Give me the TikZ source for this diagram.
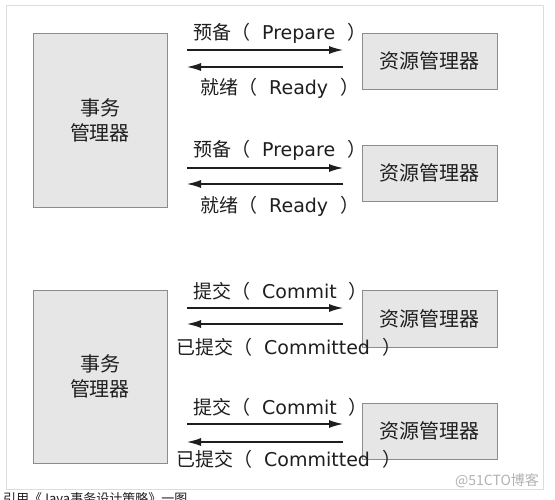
\documentclass[tikz,border=0pt]{standalone}
\usepackage{fontspec}
\setmainfont{DejaVu Sans}
\newfontfamily\cjk{Noto Sans CJK SC}
\usetikzlibrary{arrows.meta}
\definecolor{boxfill}{HTML}{E6E6E6}
\definecolor{boxline}{HTML}{8C8C8C}
\definecolor{frameline}{HTML}{DCDCDC}
\definecolor{ink}{HTML}{1E1E1E}
\newcommand{\zh}[1]{{\cjk #1}}
\newcommand{\gp}{\hspace{12pt}}
\begin{document}
\begin{tikzpicture}[x=1pt,y=-1pt,
  box/.style={draw=boxline, fill=boxfill, line width=0.8pt, inner sep=0pt, outer sep=0pt, text=ink,
    font=\cjk\fontsize{20}{25}\selectfont, align=center},
  tmbox/.style={box, minimum width=134pt, minimum height=174pt},
  rmbox/.style={box, minimum width=135pt, minimum height=56pt},
  lab/.style={anchor=west, inner sep=0pt, text=ink, font=\fontsize{19}{19}\selectfont},
  arr/.style={-{Latex[length=14pt,width=8pt]}, line width=1.2pt, draw=ink}]
\useasboundingbox (0,0) rectangle (555,500);
\fill[white] (0,0) rectangle (555,500);
\draw[frameline, line width=0.8pt] (6,5) rectangle (543,489);

% top group
\node[tmbox] (tm1) at (100,120) {事务\\管理器};
\node[rmbox] (rm1) at (429.5,61) {资源管理器};
\node[rmbox] (rm2) at (429.5,173) {资源管理器};
\coordinate (p1s) at (187,50);  \coordinate (p1e) at (343,50);
\coordinate (r1s) at (343,67);  \coordinate (r1e) at (187,67);
\coordinate (p2s) at (187,168); \coordinate (p2e) at (343,168);
\coordinate (r2s) at (343,184); \coordinate (r2e) at (187,184);
\draw[arr] (p1s) -- (p1e);
\draw[arr] (r1s) -- (r1e);
\draw[arr] (p2s) -- (p2e);
\draw[arr] (r2s) -- (r2e);
\node[lab] (lp1) at (193,33) {\zh{预备（}\gp Prepare\gp\zh{）}};
\node[lab] (lr1) at (200,88) {\zh{就绪（}\gp Ready\gp\zh{）}};
\node[lab] (lp2) at (193,150) {\zh{预备（}\gp Prepare\gp\zh{）}};
\node[lab] (lr2) at (200,206) {\zh{就绪（}\gp Ready\gp\zh{）}};

% bottom group
\node[tmbox, minimum height=173pt] (tm2) at (100,376.5) {事务\\管理器};
\node[rmbox, minimum height=57pt] (rm3) at (429.5,318.5) {资源管理器};
\node[rmbox] (rm4) at (429.5,431) {资源管理器};
\coordinate (c1s) at (187,308); \coordinate (c1e) at (343,308);
\coordinate (d1s) at (343,324); \coordinate (d1e) at (187,324);
\coordinate (c2s) at (187,424); \coordinate (c2e) at (343,424);
\coordinate (d2s) at (343,442); \coordinate (d2e) at (187,442);
\draw[arr] (c1s) -- (c1e);
\draw[arr] (d1s) -- (d1e);
\draw[arr] (c2s) -- (c2e);
\draw[arr] (d2s) -- (d2e);
\node[lab] (lc1) at (193,291) {\zh{提交（}\gp Commit\gp\zh{）}};
\node[lab] (ld1) at (176,347) {\zh{已提交（}\gp Committed\gp\zh{）}};
\node[lab] (lc2) at (193,407) {\zh{提交（}\gp Commit\gp\zh{）}};
\node[lab] (ld2) at (176,459) {\zh{已提交（}\gp Committed\gp\zh{）}};

% watermark and caption
\node[inner sep=0pt, text=black!30, font=\cjk\fontsize{14}{14}\selectfont] (wm) at (497,481) {@51CTO博客};
\node[anchor=north west, inner sep=0pt, text=ink, font=\cjk\fontsize{13}{13}\selectfont] (cap) at (3,492) {引用《Java事务设计策略》一图};
\end{tikzpicture}
\end{document}
